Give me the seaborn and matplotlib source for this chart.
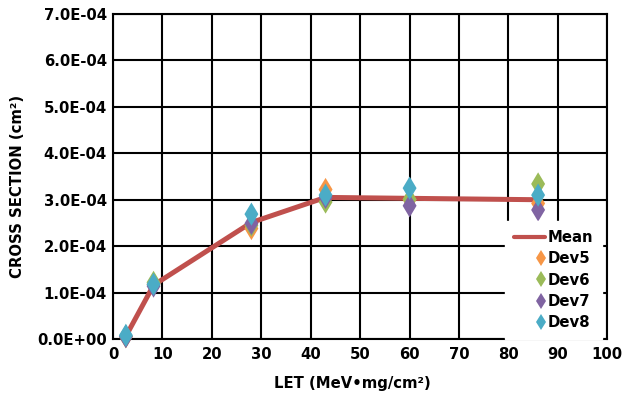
import matplotlib
matplotlib.use("Agg")
import matplotlib.pyplot as plt
import seaborn as sns
import pandas as pd
from matplotlib.lines import Line2D
from matplotlib.legend_handler import HandlerLine2D
from matplotlib.ticker import FuncFormatter, MultipleLocator

# LET values (MeV·mg/cm²) and measured cross sections (cm²)
let = [2.6, 8.2, 28, 43, 60, 86]
mean = [0.06e-4, 1.16e-4, 2.51e-4, 3.05e-4, 3.03e-4, 3.00e-4]
dev5 = [0.05e-4, 1.18e-4, 2.38e-4, 3.22e-4, 3.00e-4, 2.92e-4]
dev6 = [0.06e-4, 1.22e-4, 2.45e-4, 2.95e-4, 3.01e-4, 3.34e-4]
dev7 = [0.05e-4, 1.14e-4, 2.49e-4, 3.05e-4, 2.87e-4, 2.78e-4]
dev8 = [0.08e-4, 1.18e-4, 2.69e-4, 3.10e-4, 3.25e-4, 3.10e-4]
devices = ["Dev5", "Dev6", "Dev7", "Dev8"]
x_ticks = list(range(0, 101, 10))

mean_color = "#C0504D"
dev_colors = ["#F79646", "#9BBB59", "#8064A2", "#4BACC6"]

sns.set_style("white")
plt.rcParams["font.family"] = ["DejaVu Sans"]
plt.rcParams["font.weight"] = "bold"
plt.rcParams["axes.labelweight"] = "bold"
for key in ["text.color", "axes.labelcolor", "xtick.color", "ytick.color"]:
    plt.rcParams[key] = "black"

FS = 10.7

rows = []
for name, vals in zip(devices, [dev5, dev6, dev7, dev8]):
    for x, y in zip(let, vals):
        rows.append({"LET": x, "xs": y, "device": name})
devs = pd.DataFrame(rows)
mean_df = pd.DataFrame({"LET": let, "xs": mean})

fig = plt.figure(figsize=(6.22, 3.98), dpi=100)
ax = fig.add_axes([0.1817, 0.1482, 0.7947, 0.8166])

sns.lineplot(data=mean_df, x="LET", y="xs", color=mean_color, linewidth=3.6,
             ax=ax, zorder=2, legend=False, sort=False)
sns.scatterplot(data=devs, x="LET", y="xs", hue="device", hue_order=devices,
                palette=dev_colors, marker="d", s=140, linewidth=0,
                ax=ax, zorder=3, legend=False, clip_on=False)

ax.set_xlim(0, 100)
ax.set_ylim(0, 7e-4)
ax.set_xticks(x_ticks)
ax.yaxis.set_major_locator(MultipleLocator(1e-4))
ax.yaxis.set_major_formatter(FuncFormatter(lambda v, p: f"{v:.1E}"))
ax.set_axisbelow(True)
ax.grid(True, color="black", linewidth=1.5)
for sp in ax.spines.values():
    sp.set_color("black")
    sp.set_linewidth(1.5)
ax.tick_params(axis="both", length=0, labelsize=FS, labelcolor="black")
ax.tick_params(axis="x", pad=6)
ax.tick_params(axis="y", pad=4.5)
for lab in ax.get_xticklabels() + ax.get_yticklabels():
    lab.set_fontweight("bold")

ax.set_xlabel("LET (MeV•mg/cm²)", fontsize=FS, fontweight="bold", color="black")
ax.set_ylabel("CROSS SECTION (cm²)", fontsize=FS, fontweight="bold", color="black")
ax.xaxis.set_label_coords(0.485, -0.115)
ax.yaxis.set_label_coords(-0.178, 0.47)


class MarkerAtRight(HandlerLine2D):
    """Place the single legend marker near the right end of the handle."""
    def get_xdata(self, legend, xdescent, ydescent, width, height, fontsize):
        right = -xdescent + width - 0.3 * fontsize
        return [right - 0.1, right + 0.1], [right]


mean_handle = Line2D([], [], color=mean_color, linewidth=3)
dev_handles = [Line2D([], [], linestyle="none", marker="d", markersize=8,
                      markerfacecolor=c, markeredgewidth=0, color=c)
               for c in dev_colors]
handler_map = {h: MarkerAtRight(numpoints=1) for h in dev_handles}
leg = ax.legend([mean_handle] + dev_handles, ["Mean"] + devices,
                loc="lower right", bbox_to_anchor=(0.989, 0.0),
                borderaxespad=0, frameon=True, fancybox=False,
                framealpha=1, edgecolor="white", facecolor="white",
                prop={"size": FS, "weight": "bold"},
                handlelength=2.1, handletextpad=0.15, labelspacing=0.42,
                borderpad=0.6, handler_map=handler_map)
for t in leg.get_texts():
    t.set_color("black")
leg.set_zorder(5)

fig.savefig("out.png", dpi=100)
